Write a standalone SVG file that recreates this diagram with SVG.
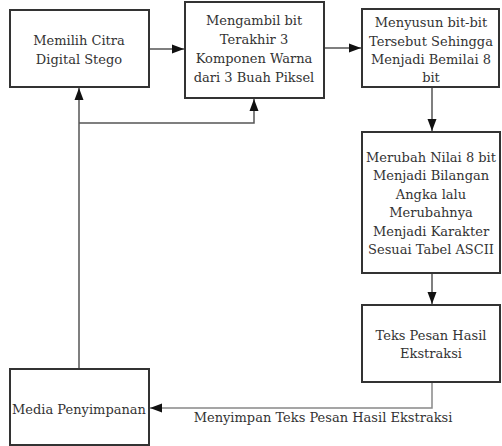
<svg xmlns="http://www.w3.org/2000/svg" width="502" height="446" viewBox="0 0 502 446">
<style>
.box{fill:#fff;stroke:#333;stroke-width:2}
.t{font-family:'DejaVu Serif',serif;font-size:13px;fill:#333;text-anchor:middle}
.c{fill:none;stroke:#555;stroke-width:1.5}
.c2{fill:none;stroke:#888;stroke-width:1.5}
</style>
<defs>
<marker id="ah" viewBox="0 0 12 10" refX="12" refY="5" markerWidth="12" markerHeight="10" markerUnits="userSpaceOnUse" orient="auto">
<path d="M0,0.5 L12,5 L0,9.5 z" fill="#111"/>
</marker>
</defs>
<rect width="502" height="446" fill="#fff"/>
<g id="connectors">
<path class="c" d="M149,49 H184" marker-end="url(#ah)"/>
<path class="c" d="M324,48 H361" marker-end="url(#ah)"/>
<path class="c" d="M432,87 V131" marker-end="url(#ah)"/>
<path class="c" d="M432,273 V304" marker-end="url(#ah)"/>
<path class="c2" d="M432,382 V408 H150" marker-end="url(#ah)"/>
<path class="c" d="M79,369 V88" marker-end="url(#ah)"/>
<path class="c" d="M79,123 H254 V99" marker-end="url(#ah)"/>
<text class="t" x="323" y="422">Menyimpan Teks Pesan Hasil Ekstraksi</text>
</g>
<g id="n1">
<rect class="box" x="10" y="10" width="139" height="77"/>
<text class="t" x="79" y="45">Memilih Citra</text>
<text class="t" x="79" y="64">Digital Stego</text>
</g>
<g id="n2">
<rect class="box" x="185" y="2" width="139" height="96"/>
<text class="t" x="254" y="25">Mengambil bit</text>
<text class="t" x="254" y="44">Terakhir 3</text>
<text class="t" x="254" y="63">Komponen Warna</text>
<text class="t" x="254" y="82">dari 3 Buah Piksel</text>
</g>
<g id="n3">
<rect class="box" x="362" y="9" width="137" height="78"/>
<text class="t" x="431" y="27">Menyusun bit-bit</text>
<text class="t" x="431" y="46">Tersebut Sehingga</text>
<text class="t" x="431" y="64">Menjadi Bemilai 8</text>
<text class="t" x="431" y="82">bit</text>
</g>
<g id="n4">
<rect class="box" x="362" y="132" width="138" height="141"/>
<text class="t" x="431" y="162">Merubah Nilai 8 bit</text>
<text class="t" x="431" y="180">Menjadi Bilangan</text>
<text class="t" x="431" y="199">Angka lalu</text>
<text class="t" x="431" y="217">Merubahnya</text>
<text class="t" x="431" y="236">Menjadi Karakter</text>
<text class="t" x="431" y="254">Sesuai Tabel ASCII</text>
</g>
<g id="n5">
<rect class="box" x="362" y="305" width="138" height="77"/>
<text class="t" x="431" y="340">Teks Pesan Hasil</text>
<text class="t" x="431" y="358">Ekstraksi</text>
</g>
<g id="n6">
<rect class="box" x="10" y="369" width="139" height="76"/>
<text class="t" x="79" y="414">Media Penyimpanan</text>
</g>
</svg>
